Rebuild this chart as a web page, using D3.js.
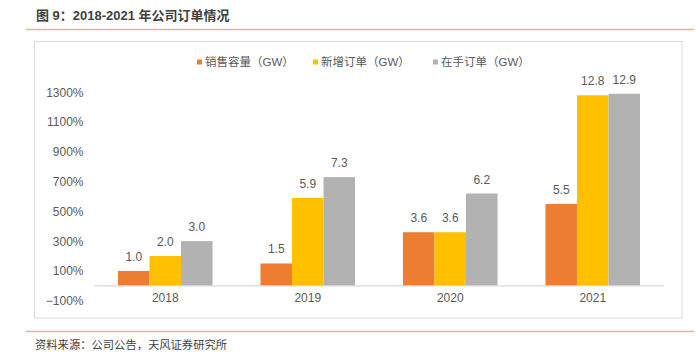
<!DOCTYPE html>
<html>
<head>
<meta charset="utf-8">
<script src="https://cdn.jsdelivr.net/npm/d3@7"></script>
<style>
  html, body { margin: 0; padding: 0; background: #fff; }
  svg { display: block; font-family: "Liberation Sans", Arial, "Noto Sans CJK SC", sans-serif; }
</style>
</head>
<body>
<svg id="chart" width="696" height="352"></svg>
<script>
const title = "图 9：2018-2021 年公司订单情况";
const source = "资料来源：公司公告，天风证券研究所";
const years = ["2018", "2019", "2020", "2021"];
const seriesNames = ["销售容量（GW）", "新增订单（GW）", "在手订单（GW）"];
const seriesColors = ["#ED7D31", "#FFC000", "#B2B2B2"];
const salesCapacity = [1.0, 1.5, 3.6, 5.5];
const newOrders = [2.0, 5.9, 3.6, 12.8];
const ordersOnHand = [3.0, 7.3, 6.2, 12.9];
const yTicks = [-1, 1, 3, 5, 7, 9, 11, 13];

const seriesValues = [salesCapacity, newOrders, ordersOnHand];
const svg = d3.select("#chart");
const textColor = "#595959";
const mixed = '"Liberation Sans", Arial, "Noto Sans CJK SC", sans-serif';

// Title
svg.append("text").attr("x", 36).attr("y", 20)
  .style("font-family", mixed)
  .style("font-size", "13px").style("font-weight", "bold").attr("fill", "#3F3F3F")
  .text(title);
svg.append("line").attr("x1", 26).attr("x2", 694).attr("y1", 29.5).attr("y2", 29.5)
  .attr("stroke", "#F4B183").attr("stroke-width", 1.5);

// Chart frame
svg.append("rect").attr("x", 34.5).attr("y", 41.5).attr("width", 647.5).attr("height", 276.5)
  .attr("fill", "none").attr("stroke", "#D9D9D9").attr("stroke-width", 1);

// Scales
const x0 = d3.scaleBand().domain(years).range([94, 664]).padding(0);
const x1 = d3.scaleBand().domain(d3.range(seriesNames.length))
  .range([0, x0.bandwidth()]).paddingInner(0).paddingOuter(0.76);
const y = d3.scaleLinear().domain([-1, 13]).range([300.7, 92.3]);

// Y axis (labels only)
const yAxis = d3.axisLeft(y).tickValues(yTicks).tickFormat(d3.format(".0%")).tickSize(0).tickPadding(0);
const gy = svg.append("g").attr("transform", "translate(83.5,0)").call(yAxis);
gy.select(".domain").remove();
gy.selectAll("text").attr("fill", textColor).style("font-size", "12px")
  .style("font-family", '"Liberation Sans", Arial, sans-serif');

// Bars
const groups = svg.append("g").selectAll("g").data(years).join("g")
  .attr("transform", d => `translate(${x0(d)},0)`);
groups.selectAll("rect")
  .data((d, i) => seriesValues.map((vals, s) => ({ s, v: vals[i] })))
  .join("rect")
  .attr("x", d => x1(d.s)).attr("width", x1.bandwidth())
  .attr("y", d => y(d.v)).attr("height", d => y(0) - y(d.v))
  .attr("fill", d => seriesColors[d.s]);
groups.selectAll("text.val")
  .data((d, i) => seriesValues.map((vals, s) => ({ s, v: vals[i] })))
  .join("text").attr("class", "val")
  .attr("x", d => x1(d.s) + x1.bandwidth() / 2).attr("y", d => y(d.v) - 10)
  .attr("text-anchor", "middle").attr("fill", textColor).style("font-size", "12px")
  .text(d => d3.format(".1f")(d.v));

// X baseline and axis
svg.append("line").attr("x1", 94).attr("x2", 664).attr("y1", y(0)).attr("y2", y(0))
  .attr("stroke", "#D9D9D9").attr("stroke-width", 1.2);
const xAxis = d3.axisBottom(x0).tickSize(0).tickPadding(0);
const gx = svg.append("g").attr("transform", `translate(0,${y(0) + 8})`).call(xAxis);
gx.select(".domain").remove();
gx.selectAll("text").attr("fill", textColor).style("font-size", "12px")
  .style("font-family", '"Liberation Sans", Arial, sans-serif');

// Legend
const legendX = [197, 313, 433];
const legend = svg.append("g").selectAll("g").data(seriesNames).join("g")
  .attr("transform", (d, i) => `translate(${legendX[i]},62)`);
legend.append("rect").attr("x", 0).attr("y", -2.5).attr("width", 5).attr("height", 5)
  .attr("fill", (d, i) => seriesColors[i]);
legend.append("text").attr("x", 8).attr("y", 4)
  .style("font-family", mixed).style("font-size", "11.5px").attr("fill", textColor)
  .text(d => d);

// Footer
svg.append("line").attr("x1", 26).attr("x2", 694).attr("y1", 331.5).attr("y2", 331.5)
  .attr("stroke", "#F4B183").attr("stroke-width", 1.5);
svg.append("text").attr("x", 35).attr("y", 349)
  .style("font-family", '"Noto Sans CJK SC", sans-serif')
  .style("font-size", "11.3px").attr("fill", "#404040")
  .text(source);
</script>
</body>
</html>
